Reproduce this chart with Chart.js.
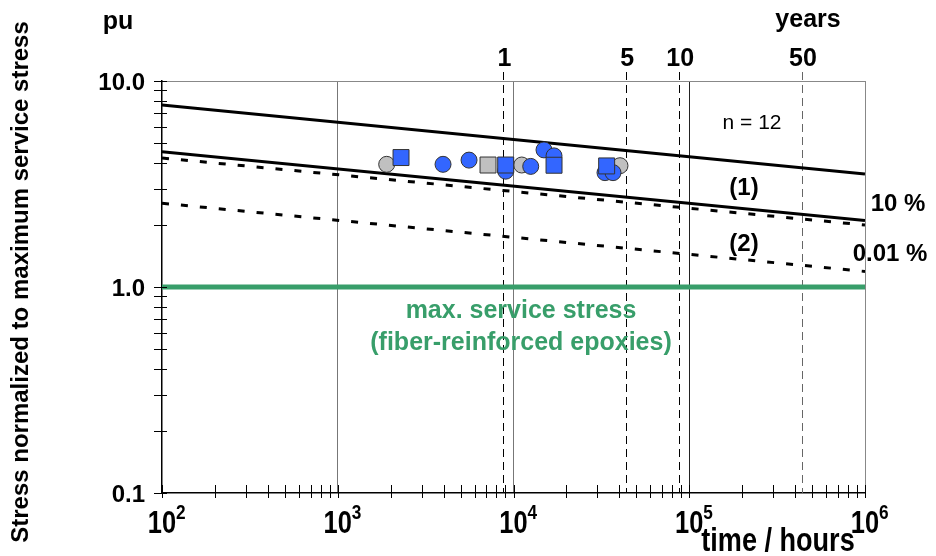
<!DOCTYPE html>
<html><head><meta charset="utf-8">
<script src="https://cdn.jsdelivr.net/npm/chart.js@4.4.0/dist/chart.umd.min.js"></script>
<style>html,body{margin:0;padding:0;background:#fff}#wrap{width:936px;height:556px}</style>
</head><body><div id="wrap"><canvas id="c" width="936" height="556"></canvas></div>
<script>
// ---- data ----
const xTickValues = [100, 1000, 10000, 100000, 1000000];
const xTickExponents = ['2', '3', '4', '5', '6'];
const yTickValues = [0.1, 1, 10];
const yTickLabels = ['0.1', '1.0', '10.0'];
const yearHours = [8760, 43800, 87600, 438000];
const yearLabels = ['1', '5', '10', '50'];

const lineHours = [100, 1000000];
const upperSolid = [7.64, 3.54];
const lowerSolid = [4.54, 2.10];
const upperDashed = [4.23, 2.00];
const lowerDashed = [2.55, 1.19];
const serviceStress = [1.0, 1.0];

const blueCircleHours = [3972, 5585, 9028, 12531, 14912, 17006, 33157, 36826];
const blueCircleValues = [3.94, 4.13, 3.65, 3.85, 4.63, 4.33, 3.59, 3.59];
const blueSquareHours = [2291, 9028, 17006, 33884];
const blueSquareValues = [4.25, 3.91, 3.90, 3.87];
const grayCircleHours = [1899, 11137, 40360];
const grayCircleValues = [3.94, 3.91, 3.88];
const graySquareHours = [7162];
const graySquareValues = [3.91];

const pts = (xs, ys) => xs.map((x, i) => ({x, y: ys[i]}));

const BLUE = 'rgb(51,102,255)';
const GRAY = 'rgb(192,192,192)';
const GREEN = 'rgb(56,158,106)';
const FONT = '"Liberation Sans", Arial, sans-serif';

function markerSet(label, data, color, style, order) {
  return {label, data, type: 'scatter', showLine: false, order,
    pointStyle: style, pointRadius: style === 'rect' ? 11.3 : 8,
    pointHoverRadius: style === 'rect' ? 11.3 : 8,
    backgroundColor: color, borderColor: '#333', pointBorderWidth: 1, borderWidth: 1};
}
function lineSet(label, data, color, width, dash, order) {
  return {label, data, type: 'scatter', showLine: true, order,
    borderColor: color, borderWidth: width, borderDash: dash, pointRadius: 0,
    pointHoverRadius: 0, fill: false, tension: 0};
}

function narrowText(ctx, text, x, y, size, align, sx) {
  ctx.save();
  ctx.font = 'bold ' + size + 'px ' + FONT;
  ctx.translate(x, y);
  ctx.scale(sx, 1);
  ctx.textAlign = align;
  ctx.fillText(text, 0, 0);
  ctx.restore();
}

const overlay = {
  id: 'overlay',
  beforeDatasetsDraw(chart) {
    const ctx = chart.ctx, xs = chart.scales.x, ca = chart.chartArea;
    ctx.save();
    ctx.lineWidth = 1;
    ctx.setLineDash([8, 5]);
    yearHours.forEach((h, i) => {
      const px = Math.round(xs.getPixelForValue(h)) + 0.5;
      ctx.strokeStyle = i === 3 ? '#666' : '#000';
      ctx.beginPath();
      ctx.moveTo(px, ca.top - 9);
      ctx.lineTo(px, ca.bottom);
      ctx.stroke();
    });
    ctx.restore();
  },
  afterDraw(chart) {
    const ctx = chart.ctx, xs = chart.scales.x, ys = chart.scales.y, ca = chart.chartArea;
    ctx.save();
    // tick marks
    ctx.strokeStyle = '#000';
    ctx.lineWidth = 1;
    xs.ticks.forEach(t => {
      const px = Math.round(xs.getPixelForValue(t.value)) + 0.5;
      ctx.beginPath(); ctx.moveTo(px, ca.bottom - 8); ctx.lineTo(px, ca.bottom + 5); ctx.stroke();
    });
    ys.ticks.forEach(t => {
      const py = Math.round(ys.getPixelForValue(t.value)) + 0.5;
      ctx.beginPath(); ctx.moveTo(ca.left - 8, py); ctx.lineTo(ca.left + 5, py); ctx.stroke();
    });
    ctx.fillStyle = '#000';
    // y tick labels
    ctx.font = 'bold 24px ' + FONT;
    ctx.textAlign = 'right';
    ctx.textBaseline = 'alphabetic';
    yTickValues.forEach((v, i) => {
      const py = ys.getPixelForValue(v);
      ctx.fillText(yTickLabels[i], 145, py + 8.6);
    });
    // x tick labels 10^n
    xTickValues.forEach((v, i) => {
      const px = xs.getPixelForValue(v);
      narrowText(ctx, '10', px, 533, 31, 'center', 0.82);
      narrowText(ctx, xTickExponents[i], px + 14, 519, 21, 'left', 0.82);
    });
    narrowText(ctx, 'time / hours', 778, 551, 33, 'center', 0.82);
    // year labels
    ctx.font = 'bold 25px ' + FONT;
    ctx.textAlign = 'center';
    yearHours.forEach((h, i) => {
      const px = xs.getPixelForValue(h);
      ctx.fillText(yearLabels[i], px + 1, 66);
    });
    ctx.fillText('years', 808, 27);
    ctx.fillText('pu', 118, 29);
    // annotations
    ctx.font = 'bold 24px ' + FONT;
    ctx.fillText('(1)', 744, 195);
    ctx.fillText('(2)', 744, 251);
    ctx.fillText('10 %', 898, 211);
    ctx.fillText('0.01 %', 890, 261);
    ctx.font = '21px ' + FONT;
    ctx.fillText('n = 12', 752, 129);
    ctx.fillStyle = GREEN;
    ctx.font = 'bold 25px ' + FONT;
    ctx.fillText('max. service stress', 521, 318);
    ctx.fillText('(fiber-reinforced epoxies)', 521, 350);
    // y axis title
    ctx.fillStyle = '#000';
    ctx.translate(28, 282);
    ctx.rotate(-Math.PI / 2);
    ctx.font = 'bold 24px ' + FONT;
    ctx.textAlign = 'center';
    ctx.fillText('Stress normalized to maximum service stress', 0, 0);
    ctx.restore();
  }
};

function buildLogTicks(min, max) {
  const out = [];
  for (let d = min; d < max * 0.999; d *= 10) {
    for (let k = 1; k <= 9; k++) out.push({value: +(d * k).toPrecision(6)});
  }
  out.push({value: max});
  return out;
}

new Chart(document.getElementById('c'), {
  type: 'scatter',
  data: {
    datasets: [
      markerSet('blue squares', pts(blueSquareHours, blueSquareValues), BLUE, 'rect', 0),
      markerSet('blue circles', pts(blueCircleHours, blueCircleValues), BLUE, 'circle', 1),
      markerSet('gray squares', pts(graySquareHours, graySquareValues), GRAY, 'rect', 2),
      markerSet('gray circles', pts(grayCircleHours, grayCircleValues), GRAY, 'circle', 3),
      lineSet('service stress', pts(lineHours, serviceStress), GREEN, 5, [], 4),
      lineSet('upper solid', pts(lineHours, upperSolid), '#000', 3, [], 5),
      lineSet('lower solid (1)', pts(lineHours, lowerSolid), '#000', 3, [], 6),
      lineSet('upper dashed', pts(lineHours, upperDashed), '#000', 3, [7, 12], 7),
      lineSet('lower dashed (2)', pts(lineHours, lowerDashed), '#000', 3, [7, 12], 8)
    ]
  },
  options: {
    responsive: false,
    animation: false,
    devicePixelRatio: 1,
    layout: {padding: {top: 81, right: 71, left: 0, bottom: 0}},
    plugins: {legend: {display: false}, tooltip: {enabled: false}},
    scales: {
      x: {
        type: 'logarithmic', min: 100, max: 1000000, position: 'bottom',
        afterBuildTicks: s => { s.ticks = buildLogTicks(100, 1000000); },
        afterFit: s => { s.height = 63; },
        ticks: {display: false, autoSkip: false},
        grid: {
          drawTicks: false,
          lineWidth: 1,
          color: c => {
            const v = c.tick ? c.tick.value : 0;
            if ([1000, 10000].includes(v)) return '#777';
            if (v === 100000) return '#222';
            if (v === 1000000) return '#888';
            return 'rgba(0,0,0,0)';
          }
        },
        border: {display: true, color: '#000', width: 1.5}
      },
      y: {
        type: 'logarithmic', min: 0.1, max: 10,
        afterBuildTicks: s => { s.ticks = buildLogTicks(0.1, 10); },
        afterFit: s => { s.width = 162; },
        ticks: {display: false, autoSkip: false},
        grid: {
          drawTicks: false,
          lineWidth: 1,
          color: c => (c.tick && c.tick.value === 10) ? '#888' : 'rgba(0,0,0,0)'
        },
        border: {display: true, color: '#000', width: 1.5}
      }
    }
  },
  plugins: [overlay]
});
</script></body></html>
